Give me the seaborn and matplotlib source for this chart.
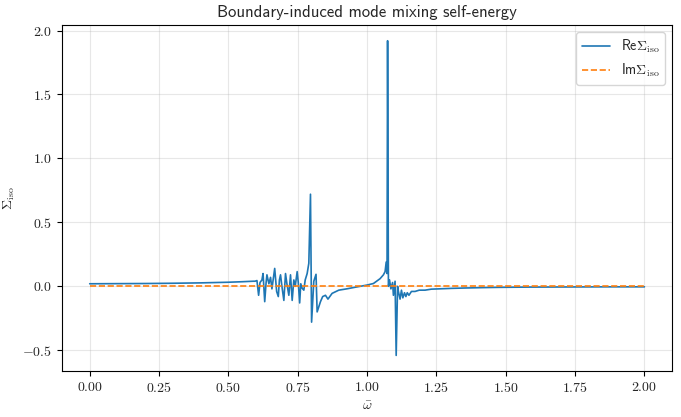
import numpy as np
import pandas as pd
import matplotlib
matplotlib.use('Agg')
import matplotlib.pyplot as plt
import seaborn as sns

# 数据
omega = [0.00, 0.10, 0.20, 0.30, 0.40, 0.50, 0.55, 0.59,
         0.596, 0.603, 0.609, 0.614, 0.621, 0.625, 0.631, 0.636, 0.639, 0.646,
         0.652, 0.657, 0.662, 0.667, 0.674, 0.680, 0.684, 0.688, 0.693, 0.700,
         0.706, 0.711, 0.718, 0.724, 0.730, 0.736, 0.741, 0.748, 0.752, 0.757,
         0.761, 0.766, 0.772, 0.777, 0.784, 0.790, 0.796, 0.800, 0.808, 0.816,
         0.820, 0.832, 0.840, 0.850, 0.859, 0.874, 0.898, 0.926, 0.955, 0.975,
         1.000, 1.023, 1.047, 1.059, 1.065, 1.069, 1.072, 1.074, 1.077, 1.081,
         1.086, 1.092, 1.095, 1.101, 1.105, 1.110, 1.113, 1.119, 1.124, 1.129,
         1.135, 1.140, 1.145, 1.151, 1.160, 1.173, 1.188, 1.209, 1.232, 1.257,
         1.303, 1.354, 1.418, 1.472, 1.580, 1.724, 1.867, 2.000]
re_sigma = [0.020, 0.021, 0.022, 0.024, 0.027, 0.032, 0.036, 0.040,
            0.040, 0.045, -0.070, 0.030, 0.050, 0.100, -0.120, 0.030, 0.090, 0.020,
            0.070, -0.020, 0.060, 0.140, -0.040, -0.080, 0.050, 0.090, 0.000, -0.110,
            0.100, 0.020, -0.070, 0.090, -0.110, 0.050, 0.000, 0.115, 0.030, -0.130,
            0.020, -0.015, -0.030, 0.050, 0.100, 0.180, 0.720, -0.280, 0.040, 0.094,
            -0.200, -0.120, -0.080, -0.070, -0.100, -0.055, -0.030, -0.020, -0.008, 0.000,
            0.010, 0.022, 0.060, 0.090, 0.115, 0.190, 0.100, 1.920, 0.000, 0.050,
            -0.020, 0.030, -0.070, 0.040, -0.540, 0.000, -0.040, -0.100, -0.030, -0.090,
            -0.050, -0.080, -0.050, -0.070, -0.040, -0.040, -0.030, -0.030, -0.022, -0.020,
            -0.016, -0.013, -0.010, -0.008, -0.006, -0.005, -0.004, -0.004]
im_omega = [0.0, 2.0]
im_sigma = [0.0, 0.0]

sns.set_theme(style='ticks')
plt.rcParams['font.family'] = ['cmr10', 'DejaVu Sans']
plt.rcParams['mathtext.fontset'] = 'cm'
plt.rcParams['axes.formatter.use_mathtext'] = True
plt.rcParams['axes.unicode_minus'] = True

df_re = pd.DataFrame({'omega': omega, 'sigma': re_sigma})
df_im = pd.DataFrame({'omega': im_omega, 'sigma': im_sigma})

fig, ax = plt.subplots(figsize=(6.81, 4.17), dpi=100)
fig.subplots_adjust(left=0.091, right=0.987, bottom=0.110, top=0.940)

sns.lineplot(data=df_re, x='omega', y='sigma', ax=ax, color='#1f77b4',
             linewidth=1.2, sort=False, label=r'Re$\Sigma_{\rm iso}$')
sns.lineplot(data=df_im, x='omega', y='sigma', ax=ax, color='#ff7f0e',
             linewidth=1.2, linestyle='--', sort=False, label=r'Im$\Sigma_{\rm iso}$')

ax.grid(True, color='#b0b0b0', alpha=0.3, linewidth=0.8)
for s in ax.spines.values():
    s.set_color('black')
    s.set_linewidth(0.8)
ax.tick_params(labelsize=10, length=3.5, width=0.8, color='black')

ax.set_title('Boundary-induced mode mixing self-energy', fontsize=12,
             family=['cmss10', 'DejaVu Sans'])
ax.set_xlabel(r'$\bar{\omega}$', fontsize=10)
ax.set_ylabel(r'$\Sigma_{\rm iso}$', fontsize=10)
ax.legend(loc='upper right', prop={'family': ['cmss10', 'DejaVu Sans'], 'size': 10},
          framealpha=0.8, edgecolor='#cccccc')

plt.savefig('out.png', dpi=100)
plt.close(fig)
